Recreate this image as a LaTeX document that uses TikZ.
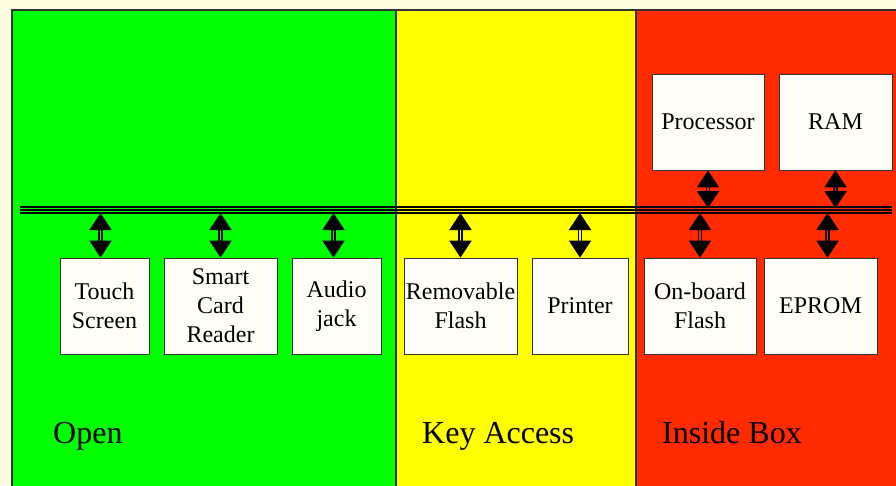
\documentclass[tikz,border=0pt]{standalone}
\usepackage{fontspec}
\setmainfont{Liberation Serif}
\usetikzlibrary{arrows.meta}
\definecolor{bgclr}{HTML}{FFFDE0}
\definecolor{openclr}{HTML}{00FF00}
\definecolor{keyclr}{HTML}{FFFF00}
\definecolor{boxclr}{HTML}{FF2A00}
\definecolor{unitclr}{HTML}{FFFFF8}

\begin{document}
\begin{tikzpicture}[x=1pt,y=-1pt,
  zone/.style={draw=black!80,line width=1.2pt},
  unit node/.style={draw=black!80,fill=unitclr,line width=0.8pt,minimum height=96pt,inner sep=0pt,align=center,font=\fontsize{24}{29}\selectfont},
  zone label/.style={anchor=base west,inner sep=0pt,font=\fontsize{32}{38}\selectfont},
  bus arrow/.style={double=#1,double distance=1.6pt,line width=1.4pt,{Triangle[width=22pt,length=17pt]}-{Triangle[width=22pt,length=17pt]}}]

  % backdrop and the three zones
  \fill[bgclr] (0,0) rectangle (896,485);
  \clip (0,0) rectangle (896,485);
  \filldraw[zone,fill=openclr] (12,10) rectangle (396,495);
  \filldraw[zone,fill=keyclr] (396,10) rectangle (636,495);
  \filldraw[zone,fill=boxclr] (636,10) rectangle (905,495);

  % bus
  \coordinate (busL) at (20,210);
  \coordinate (busR) at (892,210);
  \coordinate (busT) at (20,208);
  \coordinate (busB) at (20,213);
  \draw[line width=1.3pt] ([yshift=-3pt]busL) -- ([yshift=-3pt]busR);
  \draw[line width=2.4pt] (busL) -- (busR);
  \draw[line width=1.3pt] ([yshift=3pt]busL) -- ([yshift=3pt]busR);

  % units
  \node[unit node,minimum width=89pt] (tch) at (104.5,306) {Touch\\Screen};
  \node[unit node,minimum width=113pt] (card) at (220.5,306) {Smart\\Card\\Reader};
  \node[unit node,minimum width=89pt] (audio) at (336.5,306) {Audio\\jack};
  \node[unit node,minimum width=113pt] (rflash) at (460.5,306) {Removable\\Flash};
  \node[unit node,minimum width=96pt] (prn) at (580,306) {Printer};
  \node[unit node,minimum width=112pt] (oflash) at (700,306) {On-board\\Flash};
  \node[unit node,minimum width=113pt] (eprom) at (820.5,306) {EPROM};
  \node[unit node,minimum width=112pt] (cpu) at (708,122) {Processor};
  \node[unit node,minimum width=113pt] (ram) at (835.5,122) {RAM};

  % links to the bus
  \draw[bus arrow=openclr] ([xshift=-4pt]tch.north) -- ([xshift=-4pt]tch.north |- busB);
  \draw[bus arrow=openclr] (card.north) -- (card.north |- busB);
  \draw[bus arrow=openclr] ([xshift=-3pt]audio.north) -- ([xshift=-3pt]audio.north |- busB);
  \draw[bus arrow=keyclr] (rflash.north) -- (rflash.north |- busB);
  \draw[bus arrow=keyclr] (prn.north) -- (prn.north |- busB);
  \draw[bus arrow=boxclr] (oflash.north) -- (oflash.north |- busB);
  \draw[bus arrow=boxclr] ([xshift=7pt]eprom.north) -- ([xshift=7pt]eprom.north |- busB);
  \draw[bus arrow=boxclr] (cpu.south) -- (cpu.south |- busT);
  \draw[bus arrow=boxclr] (ram.south) -- (ram.south |- busT);

  % zone labels
  \node[zone label] (open) at (53,443) {Open};
  \node[zone label] (key) at (422,443) {Key Access};
  \node[zone label] (inside) at (662,443) {Inside Box};
\end{tikzpicture}
\end{document}
